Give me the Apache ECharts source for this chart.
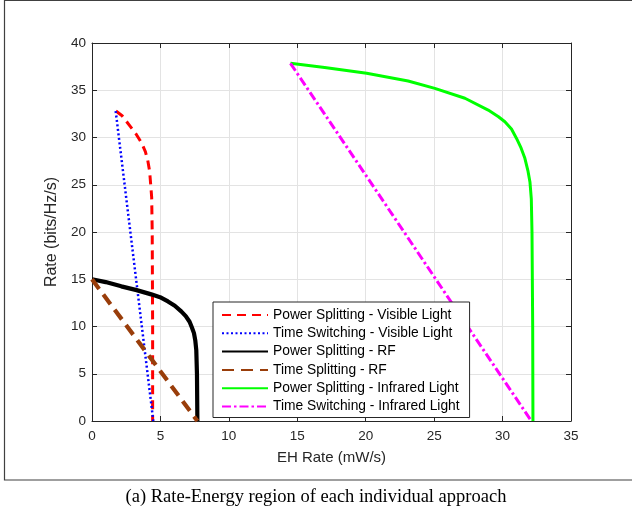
<!DOCTYPE html>
<html>
<head>
<meta charset="utf-8">
<script src="https://cdn.jsdelivr.net/npm/echarts@6/dist/echarts.min.js"></script>
<style>
html,body{margin:0;padding:0;background:#fff;}
#chart{width:632px;height:516px;}
</style>
</head>
<body>
<div id="chart"></div>
<script>
// ---- Data (EH Rate mW/s, Rate bits/Hz/s) ----
const seriesNames = [
  'Power Splitting - Visible Light',
  'Time Switching - Visible Light',
  'Power Splitting - RF',
  'Time Splitting - RF',
  'Power Splitting - Infrared Light',
  'Time Switching - Infrared Light'
];
const psVisible = [[1.75,32.8],[2.2,32.3],[2.78,31.2],[3.25,30.3],[3.63,29.4],[3.9,28.5],[4.07,27.6],[4.18,26.7],[4.24,25.9],[4.3,24.8],[4.36,23.7],[4.4,20],[4.43,10],[4.43,0]];
const tsVisible = [[1.73,32.8],[4.48,0]];
const psRF = [[0,15],[1,14.7],[2.14,14.25],[3.26,13.85],[4.33,13.4],[4.97,13.1],[5.55,12.65],[6.05,12.2],[6.52,11.6],[6.85,11.1],[7.13,10.5],[7.3,9.9],[7.45,9.3],[7.55,8.5],[7.62,7.5],[7.67,5],[7.7,0]];
const tsRF = [[0,15],[7.7,0]];
const psIR = [[14.5,37.85],[17,37.4],[20.07,36.8],[23.1,35.98],[25.05,35.2],[27.25,34.15],[28.95,32.9],[29.7,32.2],[30.17,31.67],[30.65,30.9],[31.02,29.9],[31.35,28.9],[31.63,27.8],[31.85,26.5],[32.0,25.3],[32.1,23.5],[32.15,20],[32.2,10],[32.22,0]];
const tsIR = [[14.5,37.85],[32.1,0]];
const xTicks = [0,5,10,15,20,25,30,35];
const yTicks = [0,5,10,15,20,25,30,35,40];

const FONT = '"Liberation Sans", Arial, Helvetica, sans-serif';
const axisColor = '#262626';

const chart = echarts.init(document.getElementById('chart'), null, {renderer:'canvas'});

function mkLine(name, data, color, width, type) {
  return {
    name: name, type: 'line', data: data,
    showSymbol: false, symbol: 'none', silent: true, animation: false,
    xAxisIndex: 0, yAxisIndex: 0,
    lineStyle: {color: color, width: width, type: type},
    itemStyle: {color: color}
  };
}

const option = {
  animation: false,
  backgroundColor: '#ffffff',
  grid: {left: 92, right: 61, top: 43, bottom: 95, containLabel: false},
  xAxis: [{
    type: 'value', min: xTicks[0], max: xTicks[xTicks.length-1], interval: 5,
    name: 'EH Rate (mW/s)', nameLocation: 'middle', nameGap: 29,
    nameTextStyle: {fontFamily: FONT, fontSize: 15, color: axisColor},
    axisLine: {show: true, onZero: false, lineStyle: {color: axisColor, width: 1}},
    axisTick: {show: true, inside: true, length: 5, lineStyle: {color: axisColor}},
    axisLabel: {fontFamily: FONT, fontSize: 13.5, color: axisColor, margin: 8},
    splitLine: {show: true, lineStyle: {color: '#e3e3e3', width: 1}}
  }, {
    type: 'value', min: 0, max: 35, interval: 5, position: 'top',
    axisLine: {show: true, onZero: false, lineStyle: {color: axisColor, width: 1}},
    axisTick: {show: true, inside: true, length: 5, lineStyle: {color: axisColor}},
    axisLabel: {show: false}, splitLine: {show: false}
  }],
  yAxis: [{
    type: 'value', min: yTicks[0], max: yTicks[yTicks.length-1], interval: 5,
    name: 'Rate (bits/Hz/s)', nameLocation: 'middle', nameGap: 23,
    nameTextStyle: {fontFamily: FONT, fontSize: 16, color: axisColor},
    axisLine: {show: true, onZero: false, lineStyle: {color: axisColor, width: 1}},
    axisTick: {show: true, inside: true, length: 5, lineStyle: {color: axisColor}},
    axisLabel: {fontFamily: FONT, fontSize: 13.5, color: axisColor, margin: 6},
    splitLine: {show: true, lineStyle: {color: '#e3e3e3', width: 1}}
  }, {
    type: 'value', min: 0, max: 40, interval: 5, position: 'right',
    axisLine: {show: true, onZero: false, lineStyle: {color: axisColor, width: 1}},
    axisTick: {show: true, inside: true, length: 5, lineStyle: {color: axisColor}},
    axisLabel: {show: false}, splitLine: {show: false}
  }],
  legend: {
    orient: 'vertical', left: 213, top: 302,
    data: seriesNames,
    itemWidth: 46, itemHeight: 14, itemGap: 4.3,
    padding: [6, 10, 4, 8],
    borderColor: axisColor, borderWidth: 1, backgroundColor: '#ffffff',
    itemStyle: {opacity: 0},
    textStyle: {fontFamily: FONT, fontSize: 13.8, color: '#000', lineHeight: 14},
    selectedMode: false
  },
  graphic: [
    {type: 'rect', shape: {x: 4.5, y: 0.5, width: 700, height: 479.5}, style: {fill: 'none', stroke: '#404040', lineWidth: 1.2}, silent: true, z: 100},
    {type: 'text', left: 'center', top: 488, style: {text: '(a) Rate-Energy region of each individual approach', fontFamily: '"Liberation Serif", "Times New Roman", serif', fontSize: 18.5, fill: '#000'}}
  ],
  series: [
    mkLine(seriesNames[0], psVisible, '#ff0000', 3, [9, 6]),
    mkLine(seriesNames[1], tsVisible, '#0000ff', 2.5, [2, 2.5]),
    mkLine(seriesNames[2], psRF, '#000000', 4.2, 'solid'),
    mkLine(seriesNames[3], tsRF, '#993d0a', 4.2, [12, 7]),
    mkLine(seriesNames[4], psIR, '#00ff00', 3, 'solid'),
    mkLine(seriesNames[5], tsIR, '#ff00ff', 3, [9, 3, 2.5, 3])
  ]
};
chart.setOption(option);
</script>
</body>
</html>
